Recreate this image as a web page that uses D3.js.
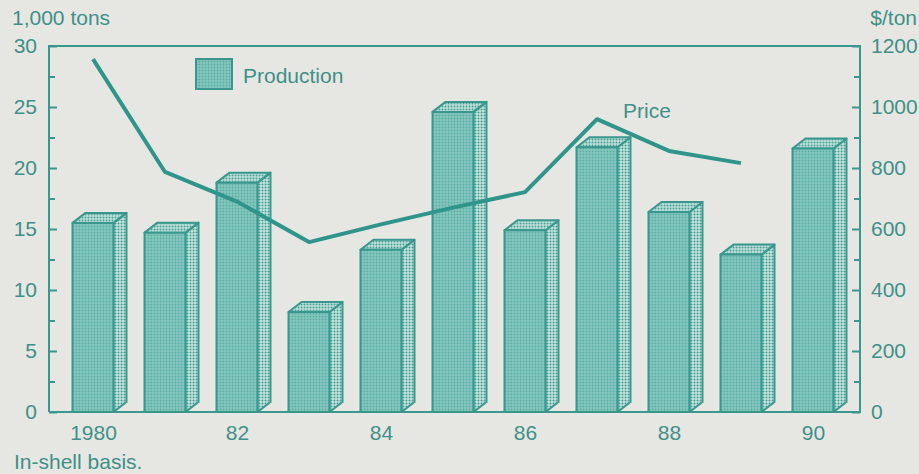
<!DOCTYPE html>
<html>
<head>
<meta charset="utf-8">
<script src="https://cdn.jsdelivr.net/npm/d3@7"></script>
<style>
  html, body { margin: 0; padding: 0; background: #e6e7e2; }
  svg { display: block; }
  text { font-family: "Liberation Sans", Arial, sans-serif; fill: #3f9088; }
</style>
</head>
<body>
<svg id="chart" width="919" height="474"></svg>
<script>
// Pecan production (bars, left axis) and price (line, right axis), 1980-90
const years = [1980, 1981, 1982, 1983, 1984, 1985, 1986, 1987, 1988, 1989, 1990];
const production = [15.5, 14.7, 18.8, 8.2, 13.3, 24.6, 14.9, 21.7, 16.4, 12.9, 21.6];
const priceYears = [1980, 1981, 1982, 1983, 1984, 1985, 1986, 1987, 1988, 1989];
const price = [1157, 787, 690, 557, 615, 670, 721, 960, 856, 816];
const xTickYears = [1980, 1982, 1984, 1986, 1988, 1990];
const xTickLabels = ["1980", "82", "84", "86", "88", "90"];
const leftTicks = [0, 5, 10, 15, 20, 25, 30];
const rightTicks = [0, 200, 400, 600, 800, 1000, 1200];

const teal = "#3a978d";
const fontSize = 21;
const svg = d3.select("#chart");

const plot = { left: 49, right: 860, top: 46, bottom: 412 };
const x = d3.scaleLinear().domain([1980, 1990]).range([93, 813]);
const y = d3.scaleLinear().domain([0, 30]).range([plot.bottom, plot.top]);
const y2 = d3.scaleLinear().domain([0, 1200]).range([plot.bottom, plot.top]);

// Dotted screen fills for the bar faces
const defs = svg.append("defs");
function dots(id, bg, dot, r, step) {
  const p = defs.append("pattern").attr("id", id)
    .attr("width", step).attr("height", step).attr("patternUnits", "userSpaceOnUse");
  p.append("rect").attr("width", step).attr("height", step).attr("fill", bg);
  p.append("circle").attr("cx", step / 2).attr("cy", step / 2).attr("r", r).attr("fill", dot);
}
dots("front", "#86c7be", "#55aca1", 0.9, 3);
dots("side", "#c6e4de", "#3f9d93", 1.0, 3);
dots("top", "#bfe0da", "#48a298", 1.0, 3);

// Frame
svg.append("path")
  .attr("d", `M${plot.left},${plot.bottom}V${plot.top}H${plot.right}V${plot.bottom}H${plot.left}`)
  .attr("fill", "none").attr("stroke", teal).attr("stroke-width", 2);

// Left axis (ticks point inward)
const gl = svg.append("g").attr("transform", `translate(${plot.left},0)`);
gl.call(d3.axisLeft(y).tickValues(leftTicks).tickSizeInner(-8).tickSizeOuter(0).tickPadding(12));
gl.append("g").call(d3.axisLeft(y).tickValues([2.5, 7.5, 12.5, 17.5, 22.5, 27.5])
  .tickSizeInner(-6).tickSizeOuter(0).tickFormat(""));

// Right axis
const gr = svg.append("g").attr("transform", `translate(${plot.right},0)`);
gr.call(d3.axisRight(y2).tickValues(rightTicks).tickSizeInner(-8).tickSizeOuter(0)
  .tickPadding(11).tickFormat(d3.format("d")));
gr.append("g").call(d3.axisRight(y2).tickValues([100, 300, 500, 700, 900, 1100])
  .tickSizeInner(-6).tickSizeOuter(0).tickFormat(""));

// Bottom axis labels
const gb = svg.append("g").attr("transform", `translate(0,${plot.bottom})`);
gb.call(d3.axisBottom(x).tickValues(xTickYears).tickSize(0).tickPadding(13)
  .tickFormat((d, i) => xTickLabels[i]));

svg.selectAll(".domain").remove();
svg.selectAll(".tick line").attr("stroke", teal).attr("stroke-width", 2);
svg.selectAll(".tick text").attr("font-size", fontSize).attr("fill", "#3f9088")
  .attr("font-family", "'Liberation Sans', Arial, sans-serif");

// 3-D bars
const bw = 41, dx = 13, dy = 10;
const bars = svg.append("g");
years.forEach((yr, i) => {
  const x0 = x(yr) - bw / 2, x1 = x0 + bw;
  const yt = y(production[i]), yb = y(0);
  const g = bars.append("g").attr("stroke", teal).attr("stroke-width", 2).attr("stroke-linejoin", "round");
  g.append("path").attr("fill", "url(#side)")
    .attr("d", `M${x1},${yt}L${x1 + dx},${yt - dy}V${yb - dy}L${x1},${yb}Z`);
  g.append("path").attr("fill", "url(#top)")
    .attr("d", `M${x0},${yt}L${x0 + dx},${yt - dy}H${x1 + dx}L${x1},${yt}Z`);
  g.append("rect").attr("fill", "url(#front)")
    .attr("x", x0).attr("y", yt).attr("width", bw).attr("height", yb - yt);
});

// Baseline over the bar feet
svg.append("line").attr("x1", plot.left).attr("x2", plot.right)
  .attr("y1", plot.bottom).attr("y2", plot.bottom)
  .attr("stroke", teal).attr("stroke-width", 2);

// Price line
const line = d3.line().x((d, i) => x(priceYears[i])).y(d => y2(d));
svg.append("path").datum(price).attr("d", line)
  .attr("fill", "none").attr("stroke", "#2f958b").attr("stroke-width", 4)
  .attr("stroke-linejoin", "round");

// Legend
svg.append("rect").attr("x", 196).attr("y", 59).attr("width", 36).attr("height", 30)
  .attr("fill", "url(#front)").attr("stroke", teal).attr("stroke-width", 2);
svg.append("text").attr("x", 243).attr("y", 83).attr("font-size", fontSize).text("Production");
svg.append("text").attr("x", 623).attr("y", 118).attr("font-size", fontSize).text("Price");

// Axis titles and note
svg.append("text").attr("x", 12).attr("y", 25).attr("font-size", fontSize).text("1,000 tons");
svg.append("text").attr("x", 917).attr("y", 25).attr("font-size", fontSize)
  .attr("text-anchor", "end").text("$/ton");
svg.append("text").attr("x", 14).attr("y", 469).attr("font-size", fontSize).text("In-shell basis.");
</script>
</body>
</html>
